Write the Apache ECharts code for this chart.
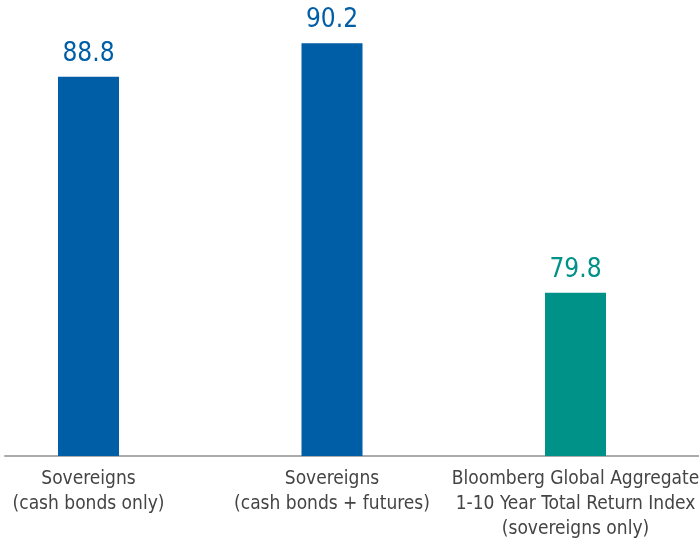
<!DOCTYPE html>
<html>
<head>
<meta charset="utf-8">
<script src="https://cdn.jsdelivr.net/npm/echarts@6/dist/echarts.min.js"></script>
<style>
html,body{margin:0;padding:0;background:#fff;}
#chart{width:699px;height:542px;}
</style>
</head>
<body>
<div id="chart"></div>
<script>
var categories = [
  "Sovereigns\n(cash bonds only)",
  "Sovereigns\n(cash bonds + futures)",
  "Bloomberg Global Aggregate\n1-10 Year Total Return Index\n(sovereigns only)"
];
var values = [88.8, 90.2, 79.8];
var barColors = ["#005EA6", "#005EA6", "#009189"];

var FONT = '"DejaVu Sans Condensed", "Liberation Sans Narrow", sans-serif';

var chart = echarts.init(document.getElementById('chart'), null, {renderer: 'canvas'});
chart.setOption({
  animation: false,
  backgroundColor: '#ffffff',
  grid: [
    {left: 88.5, right: 123.5, top: 0, bottom: 86, outerBoundsMode: 'none', containLabel: false},
    {left: 5, right: 0, top: 0, bottom: 86, outerBoundsMode: 'none', containLabel: false}
  ],
  xAxis: [
    {
      type: 'category',
      gridIndex: 0,
      boundaryGap: false,
      data: categories,
      axisLine: {show: false},
      axisTick: {show: false},
      axisLabel: {
        interval: 0,
        margin: 11,
        fontFamily: FONT,
        fontSize: 19,
        lineHeight: 25,
        color: '#444444'
      }
    },
    {
      type: 'category',
      gridIndex: 1,
      data: [''],
      axisLine: {show: true, lineStyle: {color: '#ABABAB', width: 2}},
      axisTick: {show: false},
      axisLabel: {show: false}
    }
  ],
  yAxis: [
    {type: 'value', gridIndex: 0, min: 73, max: 92, show: false},
    {type: 'value', gridIndex: 1, min: 0, max: 1, show: false}
  ],
  series: [{
    type: 'bar',
    xAxisIndex: 0,
    yAxisIndex: 0,
    barWidth: 61,
    data: values.map(function (v, i) {
      return {
        value: v,
        itemStyle: {color: barColors[i]},
        label: {color: barColors[i]}
      };
    }),
    label: {
      show: true,
      position: 'top',
      distance: 10,
      fontFamily: FONT,
      fontSize: 26,
      lineHeight: 26,
      formatter: function (p) { return p.value.toFixed(1); }
    }
  }]
});
</script>
</body>
</html>
